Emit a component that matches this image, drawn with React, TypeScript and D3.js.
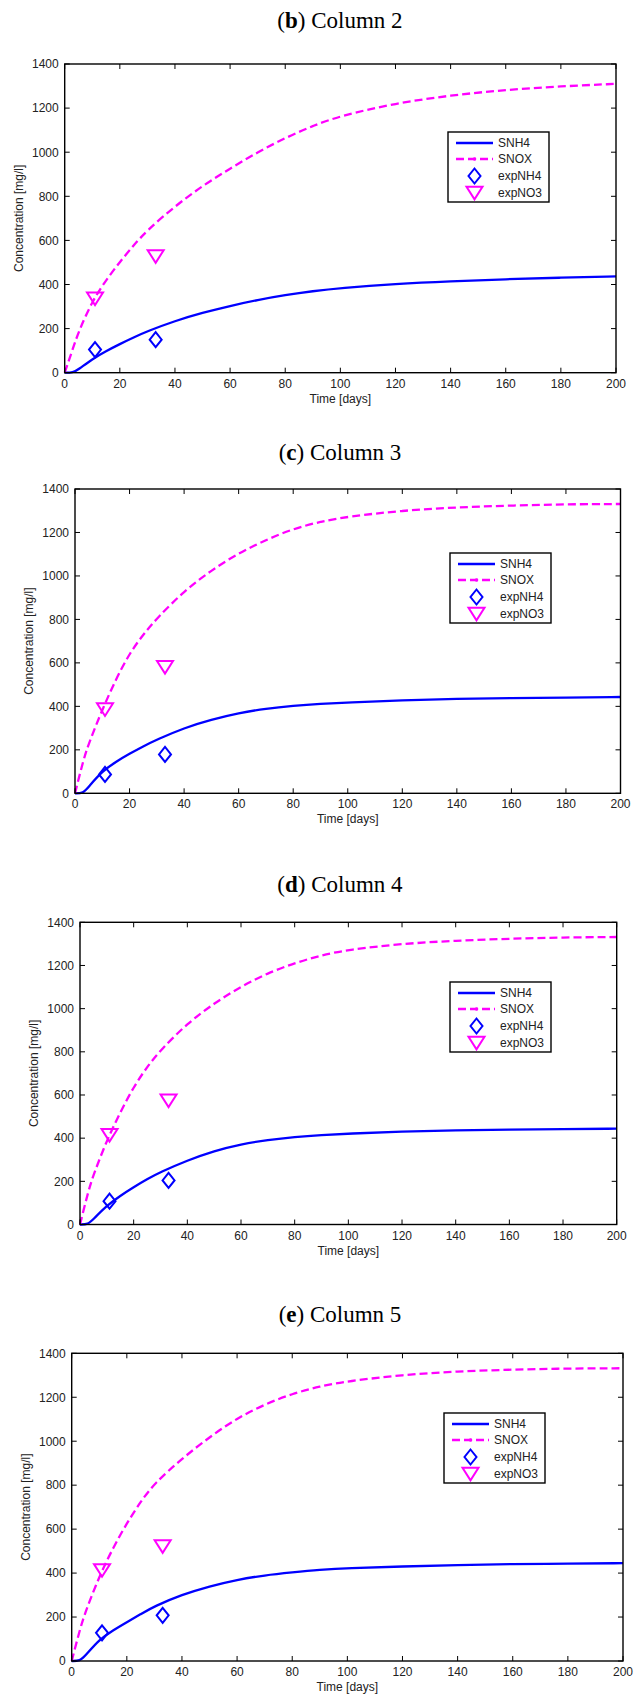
import React from "react";
import * as d3 from "d3";

// ---------- data ----------
const timeDays = [0, 3, 5, 10, 15, 20, 25, 30, 40, 50, 60, 70, 80, 90, 100, 120, 140, 160, 180, 200];

const snoxCol2 = [0, 110, 185, 325, 420, 502, 578, 647, 755, 848, 926, 1000, 1065, 1120, 1165, 1222, 1258, 1283, 1299, 1310];
const snh4Col2 = [0, 0, 15, 62, 98, 130, 160, 188, 235, 272, 303, 330, 352, 370, 384, 403, 415, 424, 431, 437];

const snoxCol3 = [0, 150, 228, 385, 525, 644, 730, 805, 931, 1026, 1105, 1166, 1217, 1250, 1273, 1301, 1316, 1324, 1330, 1331];
const snh4Col3 = [0, 0, 30, 102, 145, 182, 216, 247, 301, 339, 369, 390, 403, 412, 418, 428, 435, 438, 440, 443];

const snoxCol4 = [0, 150, 230, 390, 520, 638, 730, 808, 932, 1025, 1103, 1165, 1211, 1248, 1273, 1301, 1315, 1324, 1330, 1332];
const snh4Col4 = [0, 0, 25, 88, 133, 173, 210, 243, 297, 341, 372, 392, 406, 415, 421, 431, 437, 440, 442, 444];

const snoxCol5 = [0, 145, 225, 385, 515, 627, 725, 808, 921, 1019, 1105, 1168, 1216, 1250, 1273, 1302, 1318, 1326, 1331, 1332];
const snh4Col5 = [0, 0, 25, 98, 140, 177, 213, 249, 302, 340, 370, 390, 403, 415, 423, 430, 437, 441, 443, 445];

const expDays = [11, 33];
const expNH4Col2 = [105, 150];
const expNO3Col2 = [335, 527];
const expNH4Col3 = [87, 179];
const expNO3Col3 = [385, 580];
const expNH4Col4 = [108, 204];
const expNO3Col4 = [413, 573];
const expNH4Col5 = [128, 208];
const expNO3Col5 = [412, 521];

const xTicks = [0, 20, 40, 60, 80, 100, 120, 140, 160, 180, 200];
const yTicks = [0, 200, 400, 600, 800, 1000, 1200, 1400];
const legendLabels = ["SNH4", "SNOX", "expNH4", "expNO3"];

const panelLetters = ["b", "c", "d", "e"];
const panelNames = ["Column 2", "Column 3", "Column 4", "Column 5"];
const xLabel = "Time [days]";
const yLabel = "Concentration [mg/l]";

// ---------- layout (positions / styles only) ----------
const layouts = [
  { left: 64.7, right: 616, top: 64, bottom: 372.7, titleY: 28, lx: 448, ly: 132 },
  { left: 75, right: 620.5, top: 489, bottom: 793.3, titleY: 459.6, lx: 450, ly: 553 },
  { left: 80, right: 616.7, top: 922.3, bottom: 1224.5, titleY: 891.7, lx: 450, ly: 982 },
  { left: 71.7, right: 623, top: 1353.3, bottom: 1661, titleY: 1322.4, lx: 444, ly: 1413 },
];

const panelsData = [
  { snox: snoxCol2, snh4: snh4Col2, nh4: expNH4Col2, no3: expNO3Col2 },
  { snox: snoxCol3, snh4: snh4Col3, nh4: expNH4Col3, no3: expNO3Col3 },
  { snox: snoxCol4, snh4: snh4Col4, nh4: expNH4Col4, no3: expNO3Col4 },
  { snox: snoxCol5, snh4: snh4Col5, nh4: expNH4Col5, no3: expNO3Col5 },
];

const BLUE = "#0000ff";
const MAGENTA = "#ff00ff";
const SANS = "'Liberation Sans', Arial, sans-serif";
const SERIF = "'Liberation Serif', 'Times New Roman', serif";

const diamondPath = "M0,-7.5L6,0L0,7.5L-6,0Z";
const trianglePath = "M-8,-6.3L8,-6.3L0,6.3Z";

function Panel({ idx }: { idx: number }) {
  const L = layouts[idx];
  const D = panelsData[idx];
  const x = d3.scaleLinear().domain([0, 200]).range([L.left, L.right]);
  const y = d3.scaleLinear().domain([0, 1400]).range([L.bottom, L.top]);
  const line = d3
    .line<number>()
    .x((_, i) => x(timeDays[i]))
    .y((v) => y(v))
    .curve(d3.curveBasis);
  const tickLen = 5;
  const cx = (L.left + L.right) / 2;
  const cy = (L.top + L.bottom) / 2;
  const lw = 101;
  const lh = 70;
  const rows = [11, 27, 44, 61];
  return (
    <g>
      <text x={340} y={L.titleY} textAnchor="middle" fontFamily={SERIF} fontSize={23} fill="#000">
        (<tspan fontWeight="bold">{panelLetters[idx]}</tspan>) {panelNames[idx]}
      </text>
      {/* curves */}
      <path d={line(D.snh4) || ""} fill="none" stroke={BLUE} strokeWidth={2.3} />
      <path d={line(D.snox) || ""} fill="none" stroke={MAGENTA} strokeWidth={2.3} strokeDasharray="8,4" />
      {expDays.map((t, i) => (
        <path key={"n" + i} d={diamondPath} transform={`translate(${x(t)},${y(D.nh4[i])})`} fill="none" stroke={BLUE} strokeWidth={2} />
      ))}
      {expDays.map((t, i) => (
        <path key={"o" + i} d={trianglePath} transform={`translate(${x(t)},${y(D.no3[i])})`} fill="none" stroke={MAGENTA} strokeWidth={2} />
      ))}
      {/* box */}
      <rect x={L.left} y={L.top} width={L.right - L.left} height={L.bottom - L.top} fill="none" stroke="#000" strokeWidth={1.4} />
      {xTicks.map((t) => (
        <g key={"xt" + t}>
          <line x1={x(t)} x2={x(t)} y1={L.bottom} y2={L.bottom - tickLen} stroke="#000" strokeWidth={1} />
          <line x1={x(t)} x2={x(t)} y1={L.top} y2={L.top + tickLen} stroke="#000" strokeWidth={1} />
          <text x={x(t)} y={L.bottom + 15} textAnchor="middle" fontFamily={SANS} fontSize={12} fill="#222">
            {t}
          </text>
        </g>
      ))}
      {yTicks.map((t) => (
        <g key={"yt" + t}>
          <line x1={L.left} x2={L.left + tickLen} y1={y(t)} y2={y(t)} stroke="#000" strokeWidth={1} />
          <line x1={L.right} x2={L.right - tickLen} y1={y(t)} y2={y(t)} stroke="#000" strokeWidth={1} />
          <text x={L.left - 6} y={y(t) + 4.3} textAnchor="end" fontFamily={SANS} fontSize={12} fill="#222">
            {t}
          </text>
        </g>
      ))}
      <text x={cx} y={L.bottom + 30} textAnchor="middle" fontFamily={SANS} fontSize={12} fill="#222">
        {xLabel}
      </text>
      <text
        transform={`translate(${L.left - 42},${cy}) rotate(-90)`}
        textAnchor="middle"
        fontFamily={SANS}
        fontSize={12}
        fill="#222"
      >
        {yLabel}
      </text>
      {/* legend */}
      <rect x={L.lx} y={L.ly} width={lw} height={lh} fill="#fff" stroke="#000" strokeWidth={1.4} />
      <line x1={L.lx + 8} x2={L.lx + 45} y1={L.ly + rows[0]} y2={L.ly + rows[0]} stroke={BLUE} strokeWidth={2.3} />
      <line x1={L.lx + 8} x2={L.lx + 45} y1={L.ly + rows[1]} y2={L.ly + rows[1]} stroke={MAGENTA} strokeWidth={2.3} strokeDasharray="8,4" />
      <circle cx={L.lx + 26.5} cy={L.ly + rows[1]} r={1.8} fill={MAGENTA} />
      <path d={diamondPath} transform={`translate(${L.lx + 26.5},${L.ly + rows[2]})`} fill="none" stroke={BLUE} strokeWidth={2} />
      <path d={trianglePath} transform={`translate(${L.lx + 26.5},${L.ly + rows[3]})`} fill="none" stroke={MAGENTA} strokeWidth={2} />
      {legendLabels.map((lab, i) => (
        <text key={lab} x={L.lx + 50} y={L.ly + rows[i] + 4.3} fontFamily={SANS} fontSize={12} fill="#222">
          {lab}
        </text>
      ))}
    </g>
  );
}

export default function App() {
  return (
    <svg
      width={644}
      height={1696}
      viewBox="0 0 644 1696"
      style={{ position: "absolute", left: 0, top: 0, background: "#fff" }}
    >
      <rect x={0} y={0} width={644} height={1696} fill="#fff" />
      {[0, 1, 2, 3].map((i) => (
        <Panel key={i} idx={i} />
      ))}
    </svg>
  );
}
